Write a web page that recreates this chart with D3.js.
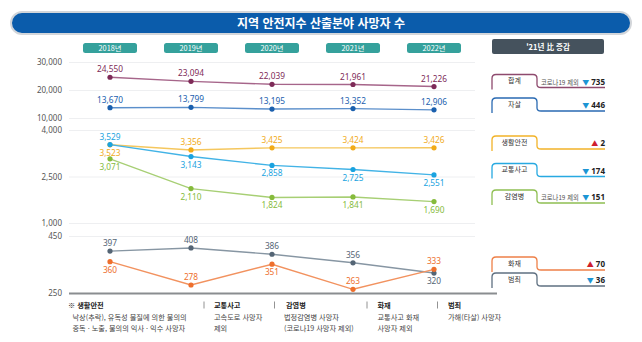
<!DOCTYPE html>
<html lang="ko">
<head>
<meta charset="utf-8">
<script src="https://cdn.jsdelivr.net/npm/d3@7"></script>
<style>
  html, body { margin: 0; padding: 0; background: #fff; }
  svg { display: block; font-family: "Noto Sans CJK KR", "Noto Sans", sans-serif; }
</style>
</head>
<body>
<div id="chart"></div>
<script>
// Years on the x axis
const years = ['2018년', '2019년', '2020년', '2021년', '2022년'];

// Deaths per field, one array per series
const total = [24550, 23094, 22039, 21961, 21226];
const suicide = [13670, 13799, 13195, 13352, 12906];
const lifeSafety = [3523, 3356, 3425, 3424, 3426];
const traffic = [3529, 3143, 2858, 2725, 2551];
const infection = [3071, 2110, 1824, 1841, 1690];
const crime = [397, 408, 386, 356, 320];
const fire = [360, 278, 351, 263, 333];

// Change vs 2021 (negative = decrease)
const changes = [-735, -446, 2, -174, -151, 70, -36];

// Axis ticks per panel
const topTicks = [10000, 20000, 30000];
const midTicks = [1000, 2500, 4000];
const botTicks = [250, 450];

const width = 642, height = 342;
const plotLeft = 69, plotRight = 475;

const svg = d3.select('#chart').append('svg')
  .attr('width', width)
  .attr('height', height);

// Title bar
svg.append('rect')
  .attr('x', 11).attr('y', 12).attr('width', 620).attr('height', 22)
  .attr('rx', 11)
  .attr('fill', '#0b5cab')
  .attr('stroke', '#d3d6da').attr('stroke-width', 2);
svg.append('text')
  .attr('x', 321).attr('y', 27.5)
  .attr('text-anchor', 'middle')
  .attr('fill', '#fff').attr('font-size', 12).attr('font-weight', 700)
  .text('지역 안전지수 산출분야 사망자 수');

const x = d3.scalePoint().domain(years).range([110, 434]);

// Year pills
const pills = svg.append('g').selectAll('g').data(years).join('g')
  .attr('transform', d => `translate(${x(d)},48)`);
pills.append('rect')
  .attr('x', -27).attr('y', -5).attr('width', 54).attr('height', 10)
  .attr('rx', 2.5).attr('fill', '#35a19c');
pills.append('text')
  .attr('y', 2.5).attr('text-anchor', 'middle')
  .attr('fill', '#fff').attr('font-size', 7.3)
  .text(d => d);

svg.append('rect')
  .attr('x', 492).attr('y', 39).attr('width', 112).attr('height', 15)
  .attr('rx', 2).attr('fill', '#45525d');
svg.append('text')
  .attr('x', 548).attr('y', 49.5).attr('text-anchor', 'middle')
  .attr('fill', '#fff').attr('font-size', 7.5).attr('font-weight', 700)
  .text("'21년 比 증감");

// Three stacked panels with their own scales
const yTop = d3.scaleLinear().domain([10000, 30000]).range([118, 62]);
const yMid = d3.scaleLinear().domain([1000, 4000]).range([223, 130]);
const yBot = d3.scaleLinear().domain([250, 450]).range([293, 236]);

function drawAxis(scale, ticks) {
  const g = svg.append('g')
    .attr('transform', `translate(${plotLeft},0)`)
    .call(d3.axisLeft(scale)
      .tickValues(ticks)
      .tickSize(-(plotRight - plotLeft))
      .tickPadding(7)
      .tickFormat(d3.format(',')));
  g.select('.domain').remove();
  g.selectAll('.tick line').attr('stroke', '#eeeff1').attr('stroke-width', 1);
  g.selectAll('.tick text')
    .attr('fill', '#555').attr('font-size', 8)
    .attr('font-family', '"Noto Sans", sans-serif');
  return g;
}
drawAxis(yTop, topTicks);
drawAxis(yMid, midTicks);
const botAxis = drawAxis(yBot, botTicks);
botAxis.selectAll('.tick').filter(d => d === 250).select('line')
  .attr('stroke', '#8a8d90').attr('stroke-width', 2.2)
  .attr('x2', 497 - plotLeft);

const series = [
  { name: '합계', values: total, y: yTop, color: '#7e2b58', line: '#a6658a', pos: ['a', 'a', 'a', 'a', 'a'] },
  { name: '자살', values: suicide, y: yTop, color: '#1b60ae', line: '#5b8fcb', pos: ['a', 'a', 'a', 'a', 'a'] },
  { name: '생활안전', values: lifeSafety, y: yMid, color: '#f1ab1a', line: '#f5c75e', pos: ['b', 'a', 'a', 'a', 'a'] },
  { name: '교통사고', values: traffic, y: yMid, color: '#1aa3e0', line: '#42b3e6', pos: ['a', 'b', 'b', 'b', 'b'] },
  { name: '감염병', values: infection, y: yMid, color: '#86bb3c', line: '#a7cf74', pos: ['b', 'b', 'b', 'b', 'b'] },
  { name: '범죄', values: crime, y: yBot, color: '#546575', line: '#8796a3', pos: ['a', 'a', 'a', 'a', 'b'] },
  { name: '화재', values: fire, y: yBot, color: '#ee6f2d', line: '#f2925f', pos: ['b', 'a', 'b', 'a', 'a'] }
];

const fmt = d3.format(',');

series.forEach(s => {
  const pts = s.values.map((v, i) => ({ year: years[i], v, pos: s.pos[i] }));
  const g = svg.append('g');
  g.append('path')
    .datum(pts)
    .attr('fill', 'none')
    .attr('stroke', s.line).attr('stroke-width', 1.4)
    .attr('d', d3.line().x(d => x(d.year)).y(d => s.y(d.v)));
  g.selectAll('circle').data(pts).join('circle')
    .attr('cx', d => x(d.year)).attr('cy', d => s.y(d.v))
    .attr('r', 2.6).attr('fill', s.color);
  g.selectAll('text').data(pts).join('text')
    .attr('x', d => x(d.year))
    .attr('y', d => s.y(d.v) + (d.pos === 'a' ? -5 : 11))
    .attr('text-anchor', 'middle')
    .attr('fill', s.color).attr('font-size', 8.3)
    .attr('font-family', '"Noto Sans", sans-serif')
    .text(d => fmt(d.v));
});

// Change tags on the right
const tags = [
  { name: '합계', color: '#8e4a6e', base: 87.5, note: '코로나19 제외' },
  { name: '자살', color: '#2a6ab2', base: 111 },
  { name: '생활안전', color: '#f2b328', base: 149 },
  { name: '교통사고', color: '#27a9e1', base: 176.5 },
  { name: '감염병', color: '#8fbf52', base: 203, note: '코로나19 제외' },
  { name: '화재', color: '#ee8048', base: 270 },
  { name: '범죄', color: '#5f7081', base: 286 }
];

const tabL = 492, tabR = 537, tabH = 13, lineEnd = 605;
const tagG = svg.append('g').selectAll('g').data(tags).join('g');
tagG.append('path')
  .attr('fill', 'none')
  .attr('stroke', d => d.color).attr('stroke-width', 1.3)
  .attr('d', d => {
    const t = d.base - tabH;
    return `M${tabL},${d.base + 2} V${t + 4} Q${tabL},${t} ${tabL + 4},${t} H${tabR - 4} ` +
      `Q${tabR},${t} ${tabR},${t + 4} V${d.base - 3} Q${tabR},${d.base} ${tabR + 4},${d.base} H${lineEnd}`;
  });
tagG.append('text')
  .attr('x', (tabL + tabR) / 2).attr('y', d => d.base - 4.5)
  .attr('text-anchor', 'middle')
  .attr('fill', '#333').attr('font-size', 7)
  .text(d => d.name);
tagG.filter(d => d.note).append('text')
  .attr('x', 541).attr('y', d => d.base - 3)
  .attr('fill', '#555').attr('font-size', 6.3)
  .text(d => d.note);
const chg = tagG.append('text')
  .attr('x', lineEnd).attr('y', d => d.base - 3)
  .attr('text-anchor', 'end')
  .attr('font-size', 8).attr('font-weight', 700);
chg.append('tspan')
  .attr('fill', (d, i) => changes[i] < 0 ? '#1c95d4' : '#cf1f2e')
  .attr('font-size', 7)
  .text((d, i) => changes[i] < 0 ? '▼' : '▲');
chg.append('tspan')
  .attr('fill', '#222')
  .attr('font-family', '"Noto Sans", sans-serif')
  .text((d, i) => ' ' + Math.abs(changes[i]));

// Footnote definitions
const notes = [
  { x: 68, head: '※ 생활안전', lines: ['낙상(추락), 유독성 물질에 의한 불의의', '중독 · 노출, 불의의 익사 · 익수 사망자'], indent: 4.5 },
  { x: 214, head: '교통사고', lines: ['고속도로 사망자', '제외'], indent: 0 },
  { x: 286, head: '감염병', lines: ['법정감염병 사망자', '(코로나19 사망자 제외)'], indent: -2 },
  { x: 377.5, head: '화재', lines: ['교통사고 화재', '사망자 제외'], indent: 0 },
  { x: 448, head: '범죄', lines: ['가해(타살) 사망자'], indent: 0 }
];
const dividers = [204, 274.5, 367, 437.5];

const noteG = svg.append('g').selectAll('g').data(notes).join('g');
noteG.append('text')
  .attr('x', d => d.x).attr('y', 308)
  .attr('fill', '#222').attr('font-size', 7.2).attr('font-weight', 700)
  .text(d => d.head);
noteG.each(function (d) {
  d3.select(this).selectAll('text.l').data(d.lines).join('text')
    .attr('class', 'l')
    .attr('x', d.x + d.indent)
    .attr('y', (t, i) => 319.5 + i * 11.5)
    .attr('fill', '#444').attr('font-size', 7.2)
    .text(t => t);
});
svg.append('g').selectAll('line').data(dividers).join('line')
  .attr('x1', d => d).attr('x2', d => d)
  .attr('y1', 301.5).attr('y2', 308.5)
  .attr('stroke', '#777').attr('stroke-width', 0.8);
</script>
</body>
</html>
